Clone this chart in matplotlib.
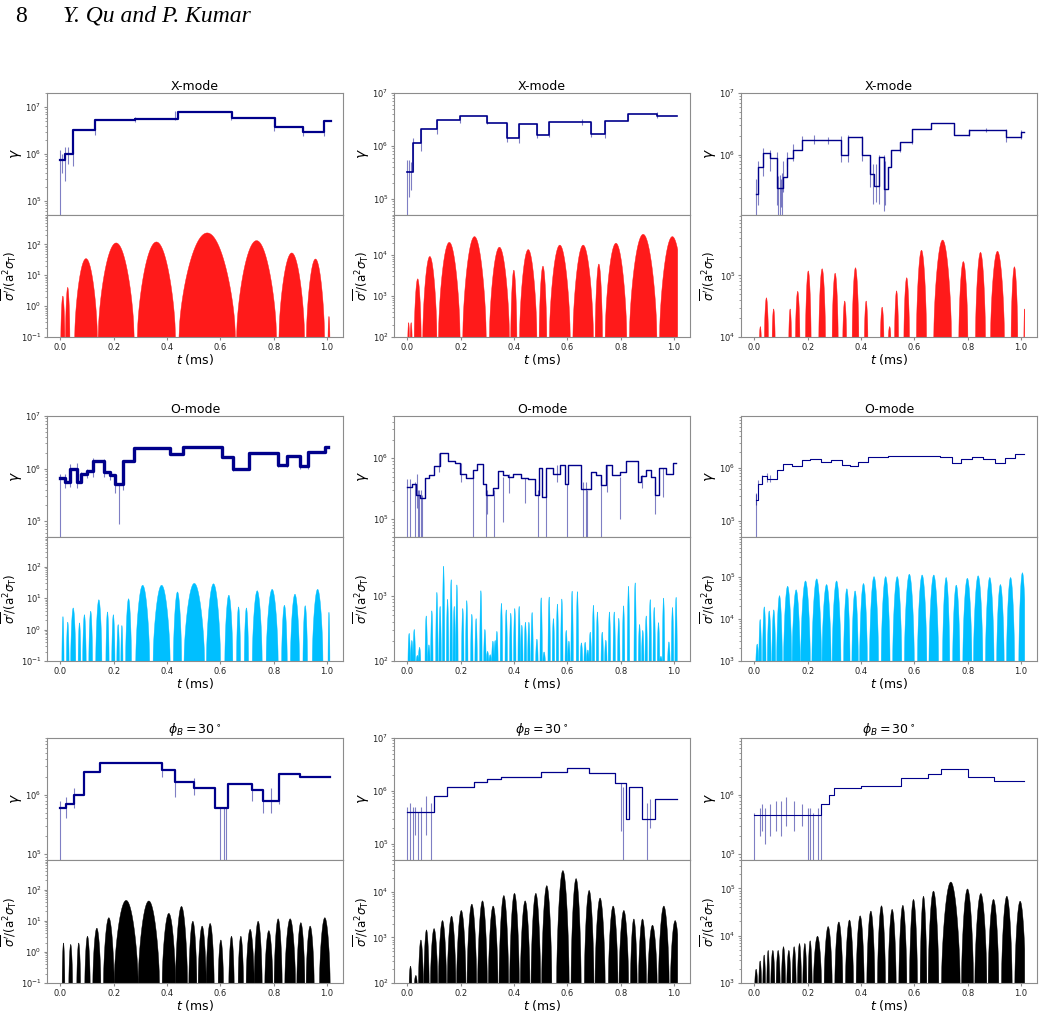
import numpy as np
import matplotlib
matplotlib.use("Agg")
import matplotlib.pyplot as plt
from matplotlib.ticker import NullFormatter

# ---------------- X-mode ----------------
# gamma steps: level g[i] holds from t[i] to t[i+1]
x1_t = [0, 0.019, 0.048, 0.13, 0.28, 0.44, 0.643, 0.805, 0.91, 0.99, 1.015]
x1_g = [7.6e5, 1.0e6, 3.2e6, 5.4e6, 5.7e6, 7.9e6, 5.9e6, 3.7e6, 3.0e6, 5.0e6]
x1_st = [0.0, 0.005, 0.018, 0.03, 0.046, 0.13, 0.28, 0.43, 0.64, 0.8, 0.91, 0.99]
x1_slo = [1e4, 4e5, 2.6e5, 6e5, 5.5e5, 2.6e6, 4.8e6, 5.2e6, 5.3e6, 3.1e6, 2.4e6, 2.4e6]
x1_shi = [1.2e6, 1.0e6, 1.4e6, 1.4e6, 1.2e6, 3.6e6, 6.3e6, 8.4e6, 8.2e6, 6.3e6, 4.0e6, 3.3e6]
x1_a = [0.0, 0.0175, 0.052, 0.14, 0.287, 0.443, 0.659, 0.818, 0.921, 1.002]
x1_b = [0.015, 0.034, 0.137, 0.275, 0.43, 0.655, 0.809, 0.914, 0.989, 1.009]
x1_pk = [2.2, 4.2, 36, 116, 125, 245, 138, 55, 35, 0.48]

x2_t = [0, 0.02, 0.05, 0.11, 0.196, 0.3, 0.375, 0.4175, 0.4875, 0.531, 0.69, 0.7425,
        0.8275, 0.9375, 1.01]
x2_g = [3.3e5, 1.15e6, 2.1e6, 3.1e6, 3.7e6, 2.7e6, 1.4e6, 2.6e6, 1.6e6, 2.9e6, 1.7e6,
        3.0e6, 4.1e6, 3.7e6]
x2_st = [0.0, 0.008, 0.014, 0.02, 0.05, 0.11, 0.196, 0.3, 0.375, 0.4175, 0.4875, 0.531,
         0.655, 0.69, 0.7425, 0.8275, 0.9375]
x2_slo = [1e4, 1.1e5, 1.5e5, 3.3e5, 8e5, 1.7e6, 2.7e6, 2.6e6, 1.2e6, 1.15e6, 1.4e6, 1.5e6,
          2.5e6, 1.5e6, 1.4e6, 3.0e6, 3.4e6]
x2_shi = [5.5e5, 5.5e5, 5e5, 1.4e6, 2.1e6, 3.1e6, 3.7e6, 3.8e6, 2.7e6, 2.6e6, 2.7e6, 2.9e6,
          3.3e6, 2.9e6, 3.0e6, 4.1e6, 4.4e6]
x2_a = [0.0, 0.009, 0.024, 0.056, 0.115, 0.206, 0.306, 0.386, 0.419, 0.4925, 0.531, 0.619,
        0.7025, 0.74, 0.831, 0.944]
x2_b = [0.006, 0.016, 0.05, 0.109, 0.196, 0.294, 0.381, 0.409, 0.484, 0.521, 0.609, 0.696,
        0.73, 0.821, 0.934, 1.04]
x2_pk = [230, 230, 2700, 9500, 2.1e4, 2.9e4, 1.6e4, 4.4e3, 1.4e4, 5.5e3, 1.8e4, 1.8e4,
         6.2e3, 2e4, 3.3e4, 2.9e4]

x3_t = [0.006, 0.0125, 0.031, 0.059, 0.084, 0.109, 0.121, 0.146, 0.179, 0.2775, 0.324,
        0.3525, 0.405, 0.434, 0.45, 0.466, 0.4875, 0.5, 0.5125, 0.546, 0.59, 0.661, 0.75,
        0.806, 0.944, 1.0, 1.0125]
x3_g = [2.3e5, 6.3e5, 1.07e6, 8.8e5, 2.9e5, 4.3e5, 8.8e5, 1.2e6, 1.75e6, 1.7e6, 1.0e6,
        1.9e6, 1.0e6, 4.9e5, 3.1e5, 9e5, 2.8e5, 6.3e5, 1.2e6, 1.6e6, 2.6e6, 3.3e6, 2.1e6,
        2.5e6, 1.9e6, 2.3e6]
x3_st = [0.006, 0.0125, 0.031, 0.059, 0.084, 0.09, 0.095, 0.1, 0.104, 0.109, 0.121, 0.146,
         0.179, 0.2225, 0.2775, 0.324, 0.3525, 0.405, 0.434, 0.445, 0.457, 0.466, 0.4875,
         0.49, 0.5, 0.5125, 0.546, 0.59, 0.75, 0.806, 0.87, 0.944, 1.0]
x3_slo = [1e4, 1.5e5, 4.5e5, 5.5e5, 1.5e5, 1e4, 1e4, 1.4e5, 1e4, 2.5e5, 6.5e5, 8e5, 1.4e6,
          1.5e6, 1.5e6, 7.5e5, 7.5e5, 8e5, 3e5, 1.6e5, 1.7e5, 1.6e5, 1.2e5, 1.5e5, 4e5,
          6.5e5, 1.1e6, 1.5e6, 2.1e6, 2e6, 2.3e6, 1.6e6, 1.8e6]
x3_shi = [4e5, 8e5, 1.3e6, 1.2e6, 1.1e6, 4.5e5, 4.6e5, 4e5, 5e5, 8e5, 1.1e6, 1.5e6, 2e6,
          2.1e6, 1.9e6, 2e6, 2.1e6, 2e6, 1e6, 7e5, 7e5, 1e6, 1e6, 8e5, 6.3e5, 1.2e6, 1.6e6,
          2.6e6, 3.3e6, 2.6e6, 2.7e6, 2.6e6, 2.5e6]
x3_a = [0.0175, 0.036, 0.065, 0.1275, 0.1525, 0.19, 0.24, 0.29, 0.33, 0.365, 0.411, 0.471,
        0.501, 0.524, 0.559, 0.606, 0.671, 0.765, 0.8275, 0.884, 0.961, 1.009]
x3_b = [0.024, 0.051, 0.076, 0.1375, 0.169, 0.211, 0.265, 0.3125, 0.344, 0.39, 0.424, 0.484,
        0.51, 0.539, 0.58, 0.644, 0.7375, 0.799, 0.865, 0.936, 0.986, 1.014]
x3_pk = [1.5e4, 4.4e4, 2.9e4, 2.9e4, 5.6e4, 1.2e5, 1.3e5, 1.1e5, 3.9e4, 1.35e5, 3.9e4, 3.1e4,
         1.5e4, 5.7e4, 9.3e4, 2.6e5, 3.8e5, 1.7e5, 2.4e5, 2.5e5, 1.4e5, 2.9e4]

# ---------------- O-mode ----------------
o1_t = [0, 0.019, 0.035, 0.062, 0.079, 0.1, 0.122, 0.162, 0.185, 0.206, 0.235, 0.275, 0.41,
        0.46, 0.605, 0.649, 0.709, 0.818, 0.851, 0.899, 0.93, 0.993, 1.005]
o1_g = [6.5e5, 5.5e5, 1.0e6, 5.6e5, 7.8e5, 8.9e5, 1.4e6, 8.7e5, 7.5e5, 5e5, 1.4e6, 2.45e6,
        1.9e6, 2.6e6, 1.65e6, 1.0e6, 2.0e6, 1.15e6, 1.7e6, 1.1e6, 2.1e6, 2.6e6]
o1_st = [0.0, 0.019, 0.035, 0.062, 0.079, 0.1, 0.122, 0.162, 0.185, 0.206, 0.221, 0.235,
         0.41, 0.46, 0.605, 0.649, 0.709, 0.818, 0.851, 0.899, 0.93, 0.993]
o1_slo = [1e4, 4.2e5, 4.5e5, 4.2e5, 5.5e5, 6.5e5, 7e5, 7e5, 6e5, 3.5e5, 9e4, 4e5, 1.8e6,
          1.8e6, 1.6e6, 9e5, 9.5e5, 1.05e6, 1.05e6, 1.0e6, 1.0e6, 2.1e6]
o1_shi = [8e5, 8e5, 1.2e6, 1.3e6, 8.5e5, 1e6, 1.6e6, 1.5e6, 9e5, 7.5e5, 5e5, 1.4e6, 2.5e6,
          2.6e6, 2.6e6, 1.6e6, 2e6, 2.1e6, 1.7e6, 1.8e6, 2.1e6, 2.7e6]
o1_a = [0.004, 0.021, 0.037, 0.065, 0.082, 0.105, 0.131, 0.169, 0.191, 0.21, 0.225, 0.243,
        0.281, 0.346, 0.422, 0.462, 0.546, 0.615, 0.659, 0.688, 0.718, 0.77, 0.828, 0.861,
        0.908, 0.943, 1.002]
o1_b = [0.012, 0.031, 0.056, 0.075, 0.095, 0.119, 0.154, 0.181, 0.203, 0.22, 0.233, 0.265,
        0.333, 0.41, 0.453, 0.539, 0.599, 0.645, 0.674, 0.704, 0.755, 0.815, 0.849, 0.895,
        0.925, 0.983, 1.009]
o1_pk = [2.7, 1.8, 5.1, 1.7, 3.1, 4, 9.3, 3.8, 3.1, 1.5, 1.4, 10, 27, 27, 16.5, 31, 30, 13,
         5.5, 5.1, 18, 20, 6.2, 14, 6, 20, 3.7]

o2_t = [0, 0.019, 0.031, 0.046, 0.065, 0.081, 0.1, 0.121, 0.1525, 0.1775, 0.199, 0.221,
        0.246, 0.2625, 0.284, 0.296, 0.321, 0.34, 0.359, 0.3775, 0.396, 0.4275, 0.4525,
        0.4775, 0.494, 0.506, 0.521, 0.546, 0.571, 0.59, 0.6025, 0.6525, 0.69, 0.709,
        0.7275, 0.746, 0.769, 0.796, 0.819, 0.865, 0.8775, 0.896, 0.915, 0.9275, 0.944,
        0.971, 0.996, 1.009]
o2_g = [3.4e5, 3.7e5, 2.5e5, 2.2e5, 4.7e5, 5.2e5, 7.5e5, 1.2e6, 9.1e5, 8.5e5, 5.5e5, 4.8e5,
        6.4e5, 8e5, 3.7e5, 2.5e5, 3.2e5, 6.2e5, 5.3e5, 5e5, 5.6e5, 4.8e5, 4.5e5, 2.5e5,
        7e5, 2.3e5, 6.8e5, 5.6e5, 7.8e5, 3.7e5, 7.8e5, 3.1e5, 5.9e5, 5.3e5, 3.6e5, 7.8e5,
        5.2e5, 5.9e5, 8.9e5, 4.1e5, 5.1e5, 6.4e5, 5e5, 2.5e5, 6.8e5, 5.4e5, 8.5e5]
o2_st = [0.0, 0.01, 0.03, 0.04, 0.045, 0.05, 0.055, 0.246, 0.296, 0.3, 0.325, 0.358, 0.49,
         0.52, 0.6, 0.66, 0.67, 0.675, 0.725, 0.796, 0.93, 0.035, 0.12, 0.2, 0.38, 0.44,
         0.56, 0.75, 0.88, 0.96]
o2_slo = [1e4, 1e4, 1e4, 1e4, 1e4, 1e4, 1e4, 1e4, 1e4, 1.2e5, 1e4, 9e4, 1e4, 1e4, 1e4,
          1e4, 1e4, 1e4, 1e4, 1e5, 1.2e5, 1.5e5, 6e5, 4e5, 2.7e5, 1.8e5, 4e5, 2.8e5,
          3.2e5, 2.3e5]
o2_shi = [4.5e5, 4.5e5, 4e5, 3e5, 3e5, 3e5, 2.5e5, 5e5, 3.7e5, 3e5, 3e5, 5e5, 3e5, 2.5e5,
          3.7e5, 4e5, 4e5, 3e5, 5e5, 5e5, 4e5, 5.5e5, 1.2e6, 8.5e5, 5.6e5, 4.8e5, 7.8e5,
          7.8e5, 5.2e5, 6.8e5]
o2_c = [0.005, 0.015, 0.024, 0.036, 0.044, 0.069, 0.079, 0.09, 0.109, 0.121, 0.134, 0.149,
        0.1625, 0.174, 0.184, 0.206, 0.221, 0.24, 0.256, 0.274, 0.289, 0.299, 0.309, 0.319,
        0.3275, 0.334, 0.351, 0.369, 0.386, 0.401, 0.4175, 0.4275, 0.441, 0.454, 0.466,
        0.484, 0.5, 0.511, 0.53, 0.546, 0.561, 0.5775, 0.594, 0.604, 0.616, 0.636, 0.651,
        0.665, 0.675, 0.684, 0.696, 0.711, 0.729, 0.7425, 0.756, 0.774, 0.791, 0.809,
        0.8275, 0.8525, 0.869, 0.881, 0.894, 0.909, 0.924, 0.94, 0.949, 0.959, 0.979,
        0.9925, 1.006]
o2_pk = [270, 210, 310, 124, 165, 500, 180, 600, 1150, 700, 2900, 900, 1800, 700, 1500, 650,
         860, 530, 455, 1220, 310, 143, 127, 205, 210, 290, 780, 620, 550, 650, 700, 360,
         400, 400, 565, 220, 950, 140, 975, 455, 760, 910, 300, 205, 1200, 1180, 193, 197,
         150, 282, 730, 575, 282, 212, 575, 575, 460, 715, 1430, 1610, 370, 300, 500, 890,
         675, 395, 120, 940, 200, 675, 965]

o3_t = [0.006, 0.015, 0.0275, 0.046, 0.084, 0.109, 0.14, 0.1775, 0.209, 0.25, 0.2875,
        0.3275, 0.359, 0.39, 0.425, 0.5025, 0.559, 0.696, 0.74, 0.774, 0.815, 0.859,
        0.9025, 0.94, 0.9775, 1.0125]
o3_g = [2.5e5, 5e5, 7e5, 6.3e5, 9.3e5, 1.2e6, 1.1e6, 1.4e6, 1.5e6, 1.3e6, 1.4e6, 1.15e6,
        1.07e6, 1.3e6, 1.6e6, 1.65e6, 1.7e6, 1.6e6, 1.25e6, 1.5e6, 1.6e6, 1.5e6, 1.25e6,
        1.55e6, 1.8e6]
o3_st = [0.006, 0.008, 0.015, 0.0275, 0.046, 0.06]
o3_slo = [1e4, 2e5, 4e5, 5e5, 5.5e5, 5.5e5]
o3_shi = [3.3e5, 3.2e5, 6e5, 7.5e5, 8e5, 7.5e5]
o3_a = [0.004, 0.015, 0.029, 0.047, 0.064, 0.082, 0.108, 0.14, 0.172, 0.214, 0.252, 0.29,
        0.333, 0.364, 0.393, 0.43, 0.474, 0.517, 0.561, 0.61, 0.653, 0.704, 0.742, 0.78,
        0.82, 0.865, 0.907, 0.944, 0.99]
o3_b = [0.014, 0.025, 0.042, 0.061, 0.078, 0.103, 0.138, 0.17, 0.208, 0.25, 0.286, 0.323,
        0.357, 0.388, 0.422, 0.464, 0.507, 0.551, 0.598, 0.645, 0.689, 0.731, 0.769, 0.814,
        0.855, 0.897, 0.935, 0.974, 1.017]
o3_pk = [2.6e3, 1e4, 2e4, 1.6e4, 1.7e4, 3.7e4, 6.2e4, 5.1e4, 8.3e4, 9.3e4, 6.8e4, 8.3e4,
         5.4e4, 4.8e4, 7.2e4, 1.05e5, 1.05e5, 1.05e5, 1.2e5, 1.15e5, 1.15e5, 1e5, 6.6e4,
         9.6e4, 1.1e5, 1e5, 6.8e4, 1e5, 1.3e5]

# ---------------- phi_B = 30 deg ----------------
p1_t = [0, 0.02, 0.05, 0.09, 0.15, 0.38, 0.43, 0.5, 0.58, 0.63, 0.72, 0.76, 0.82, 0.9, 1.01]
p1_g = [6e5, 7e5, 1.0e6, 2.4e6, 3.4e6, 2.6e6, 1.65e6, 1.3e6, 6e5, 1.5e6, 1.2e6, 8e5, 2.2e6,
        2.0e6]
p1_st = [0.0, 0.02, 0.05, 0.38, 0.43, 0.5, 0.6, 0.615, 0.62, 0.63, 0.72, 0.76, 0.79, 0.82]
p1_slo = [1e4, 4e5, 6e5, 2e6, 9e5, 1e6, 1e4, 1e4, 1e4, 6e5, 8e5, 5e5, 5e5, 7e5]
p1_shi = [8e5, 9e5, 1.3e6, 3.4e6, 2.6e6, 1.9e6, 6e5, 6e5, 6e5, 1.6e6, 1.5e6, 1.2e6, 1.3e6,
          2.3e6]
p1_a = [0.005, 0.03, 0.06, 0.09, 0.12, 0.16, 0.2, 0.29, 0.38, 0.43, 0.48, 0.515, 0.545,
        0.59, 0.63, 0.665, 0.695, 0.725, 0.765, 0.8, 0.84, 0.885, 0.92, 0.97]
p1_b = [0.015, 0.044, 0.074, 0.11, 0.15, 0.2, 0.29, 0.37, 0.43, 0.475, 0.51, 0.545, 0.575,
        0.61, 0.65, 0.685, 0.725, 0.755, 0.795, 0.83, 0.88, 0.915, 0.95, 1.01]
p1_pk = [2, 1.8, 2, 3.3, 6, 13, 47, 45, 18, 30, 10, 7, 8.5, 2.5, 3.3, 3.3, 5.5, 10, 5, 12,
         12, 9, 7, 13]

p2_t = [0, 0.1, 0.15, 0.25, 0.3, 0.35, 0.5, 0.6, 0.68, 0.78, 0.82, 0.83, 0.88, 0.93, 1.01]
p2_g = [4e5, 8e5, 1.2e6, 1.5e6, 1.7e6, 1.8e6, 2.3e6, 2.7e6, 2.2e6, 1.4e6, 3e5, 1.2e6,
        3e5, 7e5]
p2_st = [0.0, 0.01, 0.02, 0.03, 0.04, 0.05, 0.07, 0.09, 0.8, 0.81, 0.9, 0.91]
p2_slo = [1e4, 1e4, 1e4, 1.5e5, 1e4, 1e4, 1.5e5, 1e4, 1.8e5, 1e4, 1e4, 2e5]
p2_shi = [5e5, 6e5, 5e5, 5e5, 4e5, 5e5, 8e5, 6e5, 1.4e6, 1.2e6, 6e5, 7e5]
p2_a = [0.005, 0.025, 0.04, 0.06, 0.085, 0.115, 0.148, 0.183, 0.222, 0.262, 0.302, 0.342,
        0.382, 0.422, 0.462, 0.502, 0.558, 0.612, 0.662, 0.702, 0.752, 0.792, 0.835, 0.865,
        0.9, 0.94, 0.985]
p2_b = [0.015, 0.035, 0.058, 0.08, 0.112, 0.145, 0.18, 0.218, 0.258, 0.298, 0.338, 0.378,
        0.418, 0.458, 0.498, 0.54, 0.605, 0.65, 0.698, 0.74, 0.788, 0.828, 0.86, 0.895,
        0.935, 0.98, 1.02]
p2_pk = [2.4e2, 1.5e2, 9e2, 1.5e3, 1.6e3, 2.4e3, 3e3, 4e3, 5.5e3, 6.5e3, 5e3, 8.5e3, 9.5e3,
         6.5e3, 9.5e3, 1.4e4, 3e4, 2e4, 1.1e4, 7.5e3, 5e3, 4e3, 2.6e3, 2.6e3, 1.9e3, 5e3,
         2.4e3]

p3_t = [0, 0.25, 0.28, 0.3, 0.4, 0.55, 0.65, 0.7, 0.8, 0.9, 1.01]
p3_g = [4.5e5, 7e5, 1e6, 1.3e6, 1.4e6, 1.9e6, 2.2e6, 2.7e6, 2.0e6, 1.7e6]
p3_st = [0.0, 0.02, 0.03, 0.04, 0.06, 0.08, 0.1, 0.12, 0.15, 0.18, 0.2, 0.21, 0.22, 0.24,
         0.25]
p3_slo = [1e4, 2e5, 2.5e5, 1.5e5, 2e5, 2.5e5, 2e5, 3e5, 2.5e5, 3e5, 1e4, 1e4, 1e4, 1e4, 1e4]
p3_shi = [5e5, 6e5, 7e5, 6e5, 7e5, 8e5, 8e5, 9e5, 8e5, 7e5, 6e5, 6e5, 5e5, 6e5, 7e5]
p3_a = [0.0, 0.015, 0.03, 0.045, 0.06, 0.08, 0.1, 0.12, 0.14, 0.16, 0.18, 0.2, 0.22, 0.26,
        0.3, 0.34, 0.38, 0.42, 0.46, 0.5, 0.54, 0.58, 0.62, 0.65, 0.7, 0.775, 0.825,
        0.875, 0.925, 0.975]
p3_b = [0.01, 0.025, 0.04, 0.055, 0.075, 0.095, 0.115, 0.135, 0.155, 0.175, 0.195, 0.215,
        0.25, 0.29, 0.33, 0.37, 0.41, 0.45, 0.49, 0.53, 0.57, 0.61, 0.645, 0.69, 0.77,
        0.82, 0.87, 0.915, 0.965, 1.015]
p3_pk = [2e3, 3e3, 4e3, 5e3, 5e3, 5e3, 6e3, 5e3, 6e3, 7e3, 7e3, 8e3, 1e4, 1.6e4, 2e4, 2.2e4,
         2.7e4, 3.4e4, 4.4e4, 3.7e4, 4.5e4, 6e4, 7e4, 9e4, 1.4e5, 1e5, 8e4, 6e4, 7e4, 5.5e4]

# layout in pixels
W, H = 1045, 1014
col_x = [47, 394, 741]
col_w = 296
row_top = [93, 416, 738]
row_mid = [215, 537, 860]
row_bot = [337, 661, 983]
frame = '#8c8c8c'

fig = plt.figure(figsize=(W / 100, H / 100), dpi=100)


def add_ax(x0, y0, y1):
    return fig.add_axes([x0 / W, 1 - y1 / H, col_w / W, (y1 - y0) / H])


def style(ax):
    for s in ax.spines.values():
        s.set_color(frame)
    ax.tick_params(which='both', colors=frame, labelcolor='#222222', labelsize=6, pad=1.5)
    ax.tick_params(which='major', length=2.5)
    ax.tick_params(which='minor', length=1.3)
    ax.yaxis.set_minor_formatter(NullFormatter())
    ax.set_xlim(-0.05, 1.06)


def panel(r, c, title, t, g, st, slo, shi, a, b, pk, color, glim, slim, lw):
    ax1 = add_ax(col_x[c], row_top[r], row_mid[r])
    ax2 = add_ax(col_x[c], row_mid[r], row_bot[r])
    ax1.plot(t, list(g) + [g[-1]], drawstyle='steps-post', color='darkblue', lw=lw)
    ax1.vlines(st, slo, shi, color='darkblue', lw=0.8, alpha=0.5)
    ax1.set_yscale('log')
    ax1.set_ylim(glim)
    style(ax1)
    ax1.tick_params(labelbottom=False, bottom=False)
    ax1.set_title(title, fontsize=9, pad=2)
    ax1.set_ylabel(r'$\gamma$', fontsize=10, labelpad=1)

    lo = slim[0]
    for s, e, p in zip(a, b, pk):
        tt = np.linspace(s, min(e, 1.012), 80)
        u = (tt - s) / (e - s)
        v = lo * (p / lo) ** (np.sin(np.pi * u) ** 0.6)
        ax2.fill_between(tt, lo * 0.5, v, color=color, lw=0.3)
    ax2.set_yscale('log')
    ax2.set_ylim(slim)
    style(ax2)
    ax2.set_xticks([0, 0.2, 0.4, 0.6, 0.8, 1.0])
    ax2.set_xlabel(r'$t$ (ms)', fontsize=9, labelpad=0)
    ax2.set_ylabel(r'$\overline{\sigma^\prime}/(\mathrm{a}^2\sigma_\mathrm{T})$',
                   fontsize=8.5, labelpad=1)


red, cyan = '#ff1a1a', '#00bfff'
phi = r'$\phi_B = 30^\circ$'

panel(0, 0, 'X-mode', x1_t, x1_g, x1_st, x1_slo, x1_shi, x1_a, x1_b, x1_pk, red,
      (5e4, 2e7), (0.1, 900), 1.6)
panel(0, 1, 'X-mode', x2_t, x2_g, x2_st, x2_slo, x2_shi, x2_a, x2_b, x2_pk, red,
      (5e4, 1e7), (100, 9.5e4), 1.2)
panel(0, 2, 'X-mode', x3_t, x3_g, x3_st, x3_slo, x3_shi, x3_a, x3_b, x3_pk, red,
      (1.05e5, 1e7), (1e4, 9.5e5), 1.0)

o2_a = [c - 0.0045 for c in o2_c]
o2_b = [c + 0.0045 for c in o2_c]
panel(1, 0, 'O-mode', o1_t, o1_g, o1_st, o1_slo, o1_shi, o1_a, o1_b, o1_pk, cyan,
      (5e4, 1e7), (0.1, 900), 2.4)
panel(1, 1, 'O-mode', o2_t, o2_g, o2_st, o2_slo, o2_shi, o2_a, o2_b, o2_pk, cyan,
      (5e4, 5e6), (100, 8e3), 1.0)
panel(1, 2, 'O-mode', o3_t, o3_g, o3_st, o3_slo, o3_shi, o3_a, o3_b, o3_pk, cyan,
      (5e4, 9.5e6), (1e3, 9e5), 0.8)

panel(2, 0, phi, p1_t, p1_g, p1_st, p1_slo, p1_shi, p1_a, p1_b, p1_pk, 'black',
      (8e4, 9e6), (0.1, 900), 1.6)
panel(2, 1, phi, p2_t, p2_g, p2_st, p2_slo, p2_shi, p2_a, p2_b, p2_pk, 'black',
      (5e4, 1e7), (100, 5e4), 0.9)
panel(2, 2, phi, p3_t, p3_g, p3_st, p3_slo, p3_shi, p3_a, p3_b, p3_pk, 'black',
      (8e4, 9e6), (1e3, 4e5), 0.8)

fig.text(15 / W, 1 - 16 / H, '8', family='Liberation Serif', fontsize=17, va='center')
fig.text(63 / W, 1 - 16 / H, 'Y. Qu and P. Kumar', family='Liberation Serif',
         style='italic', fontsize=17, va='center')

fig.savefig('out.png', dpi=100)
